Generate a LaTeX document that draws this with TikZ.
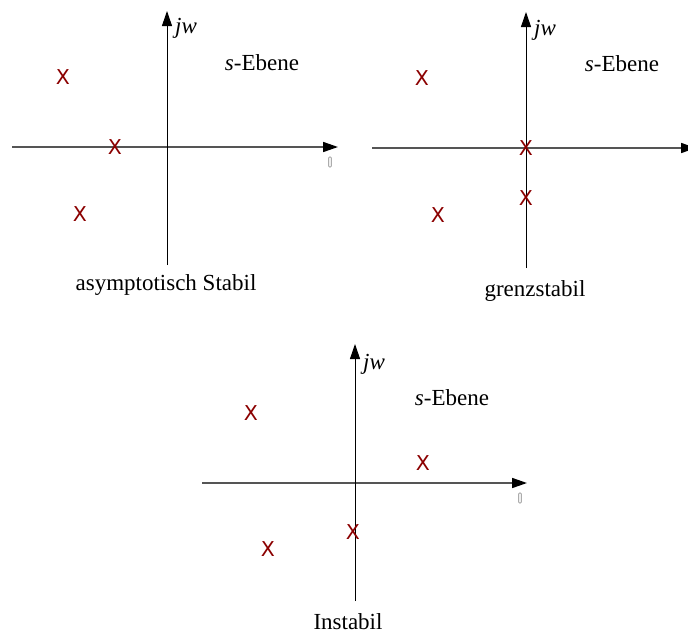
\documentclass[tikz,border=0pt]{standalone}
\usepackage{fontspec}
\setmainfont{Liberation Serif}
\newfontfamily\xfont{DejaVu Sans}
\usetikzlibrary{arrows.meta}
\definecolor{polered}{HTML}{8B0000}
\definecolor{axgray}{HTML}{555555}
\begin{document}
\begin{tikzpicture}[x=1pt,y=-1pt,
  vax/.style={draw=black,line width=1pt,-{Triangle[length=15pt,width=10pt]}},
  hax/.style={draw=axgray,line width=1.6pt,-{Triangle[length=15pt,width=10pt,fill=black,color=black]}},
  pole/.style={text=polered,font=\xfont\fontsize{20.5}{20.5}\selectfont,inner sep=0pt},
  lbl/.style={font=\fontsize{23}{23}\selectfont,inner sep=0pt},
  ilbl/.style={font=\itshape\fontsize{23}{23}\selectfont,inner sep=0pt},
  tiny/.style={draw=gray,line width=0.6pt,rounded corners=0.8pt,minimum width=2.5pt,minimum height=10pt,inner sep=0pt}]
\useasboundingbox (0,0) rectangle (688,635);
% panel 1
\coordinate (a1l) at (12,147); \coordinate (a1r) at (338,147);
\coordinate (a1b) at (167,265); \coordinate (a1t) at (167,11);
\draw[hax] (a1l) -- (a1r);
\draw[vax] (a1b) -- (a1t);
\node[ilbl] (jw1) at (186,28) {jw};
\node[lbl] (se1) at (262,63) {\textit{s}-Ebene};
\node[pole] (p11) at (63,77) {X};
\node[pole] (p12) at (115,147) {X};
\node[pole] (p13) at (80,214) {X};
\node[lbl] (t1) at (166,285) {asymptotisch Stabil};
\node[tiny] (g1) at (330,162) {};
% panel 2
\coordinate (a2l) at (372,148); \coordinate (a2r) at (696,148);
\coordinate (a2b) at (526,268); \coordinate (a2t) at (526,12);
\draw[hax] (a2l) -- (a2r);
\draw[vax] (a2b) -- (a2t);
\node[ilbl] (jw2) at (545,30) {jw};
\node[lbl] (se2) at (622,64) {\textit{s}-Ebene};
\node[pole] (p21) at (422,78) {X};
\node[pole] (p22) at (526,148) {X};
\node[pole] (p23) at (526,198) {X};
\node[pole] (p24) at (438,215) {X};
\node[lbl] (t2) at (535,291) {grenzstabil};
% panel 3
\coordinate (a3l) at (202,483); \coordinate (a3r) at (527,483);
\coordinate (a3b) at (355,601); \coordinate (a3t) at (355,344);
\draw[hax] (a3l) -- (a3r);
\draw[vax] (a3b) -- (a3t);
\node[ilbl] (jw3) at (374,364) {jw};
\node[lbl] (se3) at (452,398) {\textit{s}-Ebene};
\node[pole] (p31) at (251,413) {X};
\node[pole] (p32) at (423,463) {X};
\node[pole] (p33) at (353,532) {X};
\node[pole] (p34) at (268,549) {X};
\node[lbl] (t3) at (348,622) {Instabil};
\node[tiny] (g3) at (520,498) {};
\end{tikzpicture}
\end{document}
